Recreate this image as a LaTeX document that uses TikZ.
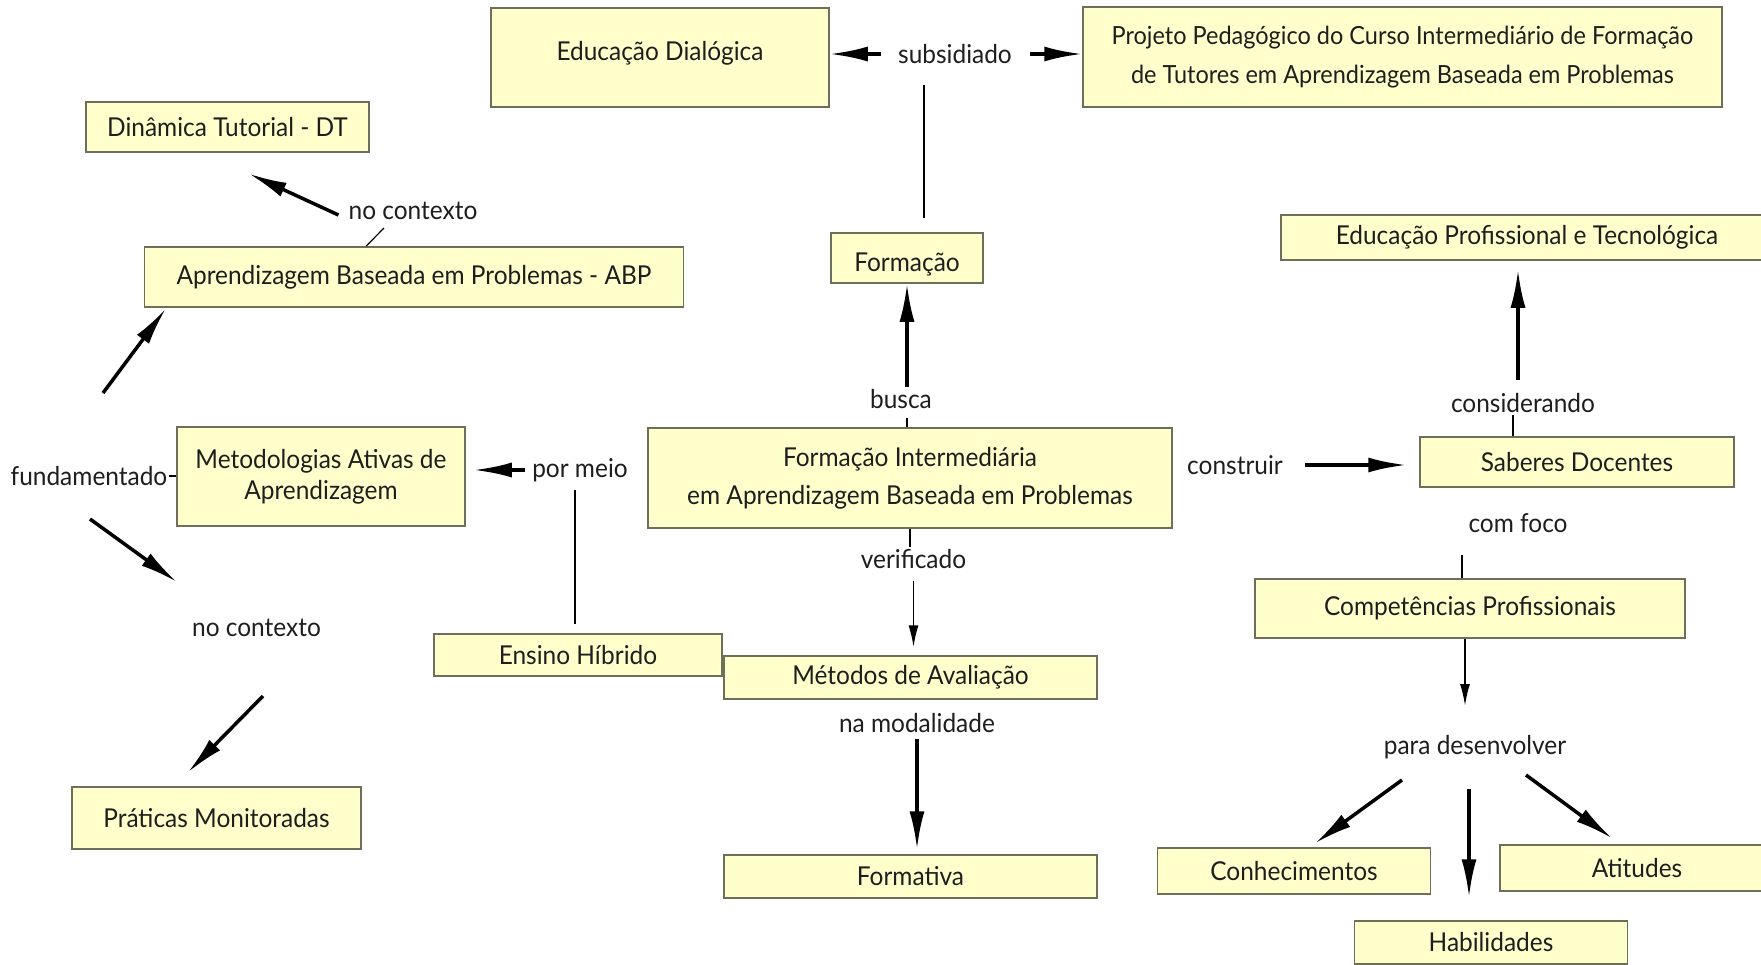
\documentclass[tikz,border=0pt]{standalone}
\usepackage{fontspec}
\setmainfont[FakeStretch=0.94]{Lato}
\usepackage{tikz}
\usetikzlibrary{arrows.meta,positioning}

\definecolor{conceptfill}{RGB}{255,255,204}
\definecolor{conceptline}{RGB}{110,110,90}
\definecolor{textdark}{RGB}{30,30,30}

\begin{document}
\begin{tikzpicture}[
    x=1pt, y=-1pt,
    >={Latex[length=38pt,width=15pt]},
    font=\fontsize{26}{34}\selectfont,
    concept/.style={
		rectangle,
		draw=conceptline,
		line width=1.5pt,
		fill=conceptfill,
		text=textdark,
		align=center,
		inner sep=0pt
	},
	phrase/.style={
		text=textdark,
		inner sep=2pt
	},
	arr/.style={
		->,
		line width=3.5pt
	},
	tarr/.style={
		-{Latex[length=22pt,width=10pt]},
		line width=1.8pt
	},
	linkline/.style={
		line width=1.2pt
	}
  ]
  \useasboundingbox [fill=white] (0,0) rectangle (1761,964);

  % We start by placing the concepts
  \node [concept, minimum width=338pt, minimum height=99pt, text depth=14pt] (dialogica) at (660,57.5) {Educação Dialógica};
  \node [concept, minimum width=639pt, minimum height=100pt, font=\fontsize{25}{39}\selectfont] (projeto) at (1402.5,57) {Projeto Pedagógico do Curso Intermediário de Formação\\ de Tutores em Aprendizagem Baseada em Problemas};
  \node [concept, minimum width=283pt, minimum height=50pt] (dinamica) at (227.5,127) {Dinâmica Tutorial - DT};
  \node [concept, minimum width=539pt, minimum height=60pt] (abp) at (414,277) {Aprendizagem Baseada em Problemas - ABP};
  \node [concept, minimum width=152pt, minimum height=50pt, text height=28pt, text depth=2pt] (formacao) at (907,258) {Formação};
  \node [concept, minimum width=492pt, minimum height=45pt] (ept) at (1527,237.5) {Educação Profissional e Tecnológica};
  \node [concept, minimum width=288pt, minimum height=99pt, font=\fontsize{26}{31}\selectfont] (metodologias) at (321,476.5) {Metodologias Ativas de\\ Aprendizagem};
  \node [concept, minimum width=524pt, minimum height=100pt, font=\fontsize{26}{38}\selectfont] (intermediaria) at (910,478) {Formação Intermediária\\ em Aprendizagem Baseada em Problemas};
  \node [concept, minimum width=314pt, minimum height=50pt] (saberes) at (1577,462) {Saberes Docentes};
  \node [concept, minimum width=430pt, minimum height=59pt] (competencias) at (1470,608.5) {Competências Profissionais};
  \node [concept, minimum width=288pt, minimum height=42pt] (hibrido) at (578,655) {Ensino Híbrido};
  \node [concept, minimum width=373pt, minimum height=43pt] (metodos) at (910.5,677.5) {Métodos de Avaliação};
  \node [concept, minimum width=289pt, minimum height=62pt] (praticas) at (216.5,818) {Práticas Monitoradas};
  \node [concept, minimum width=373pt, minimum height=43pt] (formativa) at (910.5,876.5) {Formativa};
  \node [concept, minimum width=273pt, minimum height=46pt] (conhecimentos) at (1294,871) {Conhecimentos};
  \node [concept, minimum width=274pt, minimum height=46pt] (atitudes) at (1637,868) {Atitudes};
  \node [concept, minimum width=273pt, minimum height=43pt] (habilidades) at (1491,942.5) {Habilidades};

  % linking phrases
  \node [phrase] (subsidiado) at (955,54) {subsidiado};
  \node [phrase] (contexto1) at (413,211) {no contexto};
  \node [phrase] (busca) at (901,399) {busca};
  \node [phrase] (fundamentado) at (89,476) {fundamentado};
  \node [phrase] (pormeio) at (580,470) {por meio};
  \node [phrase] (construir) at (1235,465) {construir};
  \node [phrase] (considerando) at (1523,403) {considerando};
  \node [phrase] (verificado) at (913.5,559) {verificado};
  \node [phrase] (comfoco) at (1518,523) {com foco};
  \node [phrase] (contexto2) at (256.5,628) {no contexto};
  \node [phrase] (modalidade) at (917,723) {na modalidade};
  \node [phrase] (desenvolver) at (1475,747) {para desenvolver};

  \draw [linkline, shorten <=14pt, shorten >=19pt] ([xshift=17pt]formacao.north) -- ([xshift=17pt]formacao.north |- subsidiado.south);
  \draw [arr, shorten <=15pt] (subsidiado.west) -- (subsidiado.west -| dialogica.east);
  \draw [arr, shorten <=16pt] (subsidiado.east) -- (subsidiado.east -| projeto.west);

  \draw [linkline, shorten >=7pt] (intermediaria.north -| formacao.south) -- (busca.south -| formacao.south);
  \draw [arr] (busca.north -| formacao.south) -- (formacao.south);

  \draw [linkline, shorten <=9pt, shorten >=6pt] ([xshift=-3pt]hibrido.north) -- ([xshift=-3pt]hibrido.north |- pormeio.south);
  \draw [arr, shorten <=5pt, shorten >=8pt] (pormeio.west) -- (pormeio.west -| metodologias.east);

  \draw [arr, shorten <=20pt, shorten >=13pt] (construir.east) -- (construir.east -| saberes.west);
  \draw [linkline] ([xshift=-10pt]considerando.south) -- ([xshift=-10pt]considerando.south |- saberes.north);
  \draw [arr, shorten <=11pt, shorten >=9pt] ([xshift=-5pt]considerando.north) -- ([xshift=-5pt]considerando.north |- ept.south);
  \draw [linkline, shorten >=20pt] ([xshift=-8pt]competencias.north) -- ([xshift=-8pt]competencias.north |- comfoco.south);

  \draw [linkline] (intermediaria.south) -- (intermediaria.south |- verificado.north);
  \draw [tarr, shorten <=10pt, shorten >=8pt] (verificado.south) -- (verificado.south |- metodos.north);
  \draw [arr, shorten <=4pt, shorten >=5pt] (modalidade.south) -- (modalidade.south |- formativa.north);

  \draw [linkline] ([xshift=-48pt]abp.north) -- ([xshift=-29pt,yshift=-6pt]contexto1.south);
  \draw [arr] ([xshift=-8pt,yshift=-4pt]contexto1.west) -- ([xshift=21.5pt,yshift=-21pt]dinamica.south);

  \draw [linkline] (fundamentado.east) -- (fundamentado.east -| metodologias.west);
  \draw [arr] ([xshift=14pt,yshift=83pt]fundamentado.center) -- ([xshift=22pt,yshift=-1pt]abp.south west);
  \draw [arr] ([xshift=1pt,yshift=-43pt]fundamentado.center) -- ([xshift=-79.5pt,yshift=46pt]contexto2.center);
  \draw [arr] ([xshift=6.5pt,yshift=-68pt]contexto2.center) -- ([xshift=-28.5pt,yshift=14pt]praticas.north);

  \draw [tarr, shorten >=27pt] ([xshift=-5pt]competencias.south) -- ([xshift=-5pt]competencias.south |- desenvolver.north);
  \draw [arr] ([xshift=-73pt,yshift=-33pt]desenvolver.center) -- ([xshift=21pt,yshift=4pt]conhecimentos.north);
  \draw [arr] ([xshift=-6pt,yshift=-42pt]desenvolver.center) -- ([xshift=-22pt,yshift=23pt]habilidades.north);
  \draw [arr] ([xshift=51pt,yshift=-28pt]desenvolver.center) -- ([xshift=-25pt,yshift=6pt]atitudes.north);

\end{tikzpicture}
\end{document}
